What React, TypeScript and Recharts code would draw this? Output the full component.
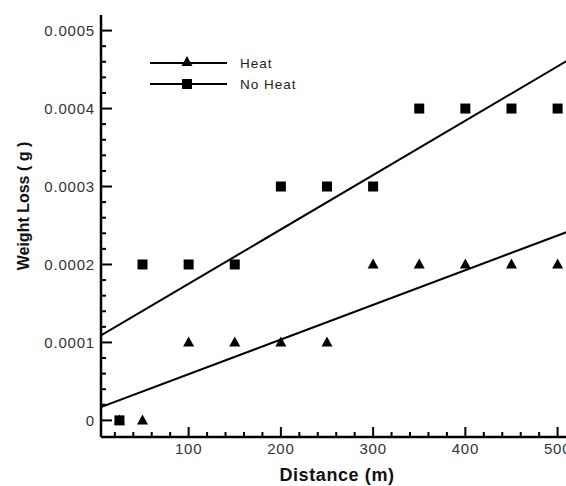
import { ComposedChart, Scatter, XAxis, YAxis, Legend, Label } from 'recharts'

// distance (m) and weight loss (g)
const heatDistance = [25, 50, 100, 150, 200, 250, 300, 350, 400, 450, 500]
const heatLoss = [0, 0, 0.0001, 0.0001, 0.0001, 0.0001, 0.0002, 0.0002, 0.0002, 0.0002, 0.0002]
const noHeatDistance = [25, 50, 100, 150, 200, 250, 300, 350, 400, 450, 500]
const noHeatLoss = [0, 0.0002, 0.0002, 0.0002, 0.0003, 0.0003, 0.0003, 0.0004, 0.0004, 0.0004, 0.0004]

// linear trend lines, end points read at the plot edges
const fitDistance = [5, 540]
const heatFitLoss = [0.000017, 0.000255]
const noHeatFitLoss = [0.000109, 0.000482]

const seriesNames = ['Heat', 'No Heat']

const xMajorTicks = [100, 200, 300, 400, 500]
const xMinorTicks = [20, 40, 60, 80, 120, 140, 160, 180, 220, 240, 260, 280, 320, 340, 360, 380, 420, 440, 460, 480, 520]
const yMajorTicks = [0, 0.0001, 0.0002, 0.0003, 0.0004, 0.0005]
const yMinorTicks = [
  0.00002, 0.00004, 0.00006, 0.00008, 0.00012, 0.00014, 0.00016, 0.00018,
  0.00022, 0.00024, 0.00026, 0.00028, 0.00032, 0.00034, 0.00036, 0.00038,
  0.00042, 0.00044, 0.00046, 0.00048,
]

const toPoints = (xs: number[], ys: number[]) => xs.map((x, i) => ({ x, y: ys[i] }))

const heatData = toPoints(heatDistance, heatLoss)
const noHeatData = toPoints(noHeatDistance, noHeatLoss)
const heatFit = toPoints(fitDistance, heatFitLoss)
const noHeatFit = toPoints(fitDistance, noHeatFitLoss)

const xDomain = [5, 540]
const yDomain = [-0.0000213, 0.00052]

const tickFont = {
  fontFamily: '"Liberation Sans", Arial, sans-serif',
  fontSize: 15,
  letterSpacing: 0.8,
  fill: '#333',
}
const titleFont = {
  fontFamily: '"Liberation Sans", Arial, sans-serif',
  fontWeight: 'bold' as const,
  fill: '#111',
}

const Triangle = (p: any) => (
  <polygon
    points={`${p.cx},${p.cy - 6} ${p.cx + 5.5},${p.cy + 4} ${p.cx - 5.5},${p.cy + 4}`}
    fill="#000"
  />
)
const Square = (p: any) => <rect x={p.cx - 5} y={p.cy - 5} width={10} height={10} fill="#000" />
const NoMark = () => <g />

const YTick = (p: any) => {
  const v = p.payload.value
  const major = yMajorTicks.includes(v)
  return (
    <g>
      <line x1={p.x} x2={p.x + (major ? 11 : 5)} y1={p.y} y2={p.y} stroke="#000" strokeWidth={2} />
      {major && (
        <text x={p.x - 6} y={p.y} textAnchor="end" dominantBaseline="central" {...tickFont}>
          {v === 0 ? '0' : v.toFixed(4)}
        </text>
      )}
    </g>
  )
}

const XTick = (p: any) => {
  const v = p.payload.value
  const major = xMajorTicks.includes(v)
  return (
    <g>
      <line x1={p.x} x2={p.x} y1={p.y} y2={p.y - (major ? 10 : 5)} stroke="#000" strokeWidth={2} />
      {major && (
        <text x={p.x} y={p.y + 17} textAnchor="middle" {...tickFont}>
          {v}
        </text>
      )}
    </g>
  )
}

const renderLegend = () => (
  <svg width={170} height={45}>
    {seriesNames.map((name, i) => {
      const y = 10 + i * 21
      return (
        <g key={name}>
          <line x1={0} x2={77} y1={y} y2={y} stroke="#000" strokeWidth={2} />
          {i === 0 ? <Triangle cx={37} cy={y - 1} /> : <Square cx={37} cy={y} />}
          <text
            x={90}
            y={y}
            dominantBaseline="central"
            fontFamily='"Liberation Sans", Arial, sans-serif'
            fontSize={13.5}
            letterSpacing={1}
            fill="#222"
          >
            {name}
          </text>
        </g>
      )
    })}
  </svg>
)

export default function App() {
  return (
    <div style={{ position: 'absolute', left: 0, top: 0, width: 566, height: 486, overflow: 'hidden', background: '#fff' }}>
      <ComposedChart width={608} height={486} margin={{ top: 15, right: 13.5, bottom: 0, left: 0 }}>
        <XAxis
          dataKey="x"
          type="number"
          domain={xDomain}
          allowDataOverflow
          ticks={[...xMinorTicks, ...xMajorTicks].sort((a, b) => a - b)}
          interval={0}
          height={49}
          tickSize={0}
          tickMargin={0}
          tick={XTick}
          axisLine={{ stroke: '#000', strokeWidth: 2.5 }}
        >
          <Label
            content={() => (
              <text x={337} y={481} textAnchor="middle" fontSize={18} letterSpacing={0.6} {...titleFont}>
                Distance (m)
              </text>
            )}
          />
        </XAxis>
        <XAxis
          xAxisId="top"
          orientation="top"
          type="number"
          domain={xDomain}
          allowDataOverflow
          height={0}
          tick={false}
          tickLine={false}
          axisLine={{ stroke: '#000', strokeWidth: 2.5 }}
        />
        <YAxis
          dataKey="y"
          type="number"
          domain={yDomain}
          allowDataOverflow
          ticks={[...yMajorTicks, ...yMinorTicks].sort((a, b) => a - b)}
          interval={0}
          width={101}
          tickSize={0}
          tickMargin={0}
          tick={YTick}
          axisLine={{ stroke: '#000', strokeWidth: 2.5 }}
        >
          <Label
            content={() => (
              <text
                x={23}
                y={206}
                transform="rotate(-90 23 206)"
                textAnchor="middle"
                dominantBaseline="central"
                fontSize={16}
                {...titleFont}
              >
                Weight Loss ( g )
              </text>
            )}
          />
        </YAxis>
        <Legend
          layout="vertical"
          align="center"
          verticalAlign="middle"
          content={renderLegend}
          wrapperStyle={{ left: 150, top: 53, width: 170, height: 45 }}
        />
        <Scatter name="Heat" data={heatData} shape={Triangle} isAnimationActive={false} legendType="none" />
        <Scatter name="No Heat" data={noHeatData} shape={Square} isAnimationActive={false} legendType="none" />
        <Scatter
          data={heatFit}
          shape={NoMark}
          line={{ stroke: '#000', strokeWidth: 2 }}
          isAnimationActive={false}
          legendType="none"
        />
        <Scatter
          data={noHeatFit}
          shape={NoMark}
          line={{ stroke: '#000', strokeWidth: 2 }}
          isAnimationActive={false}
          legendType="none"
        />
      </ComposedChart>
    </div>
  )
}
